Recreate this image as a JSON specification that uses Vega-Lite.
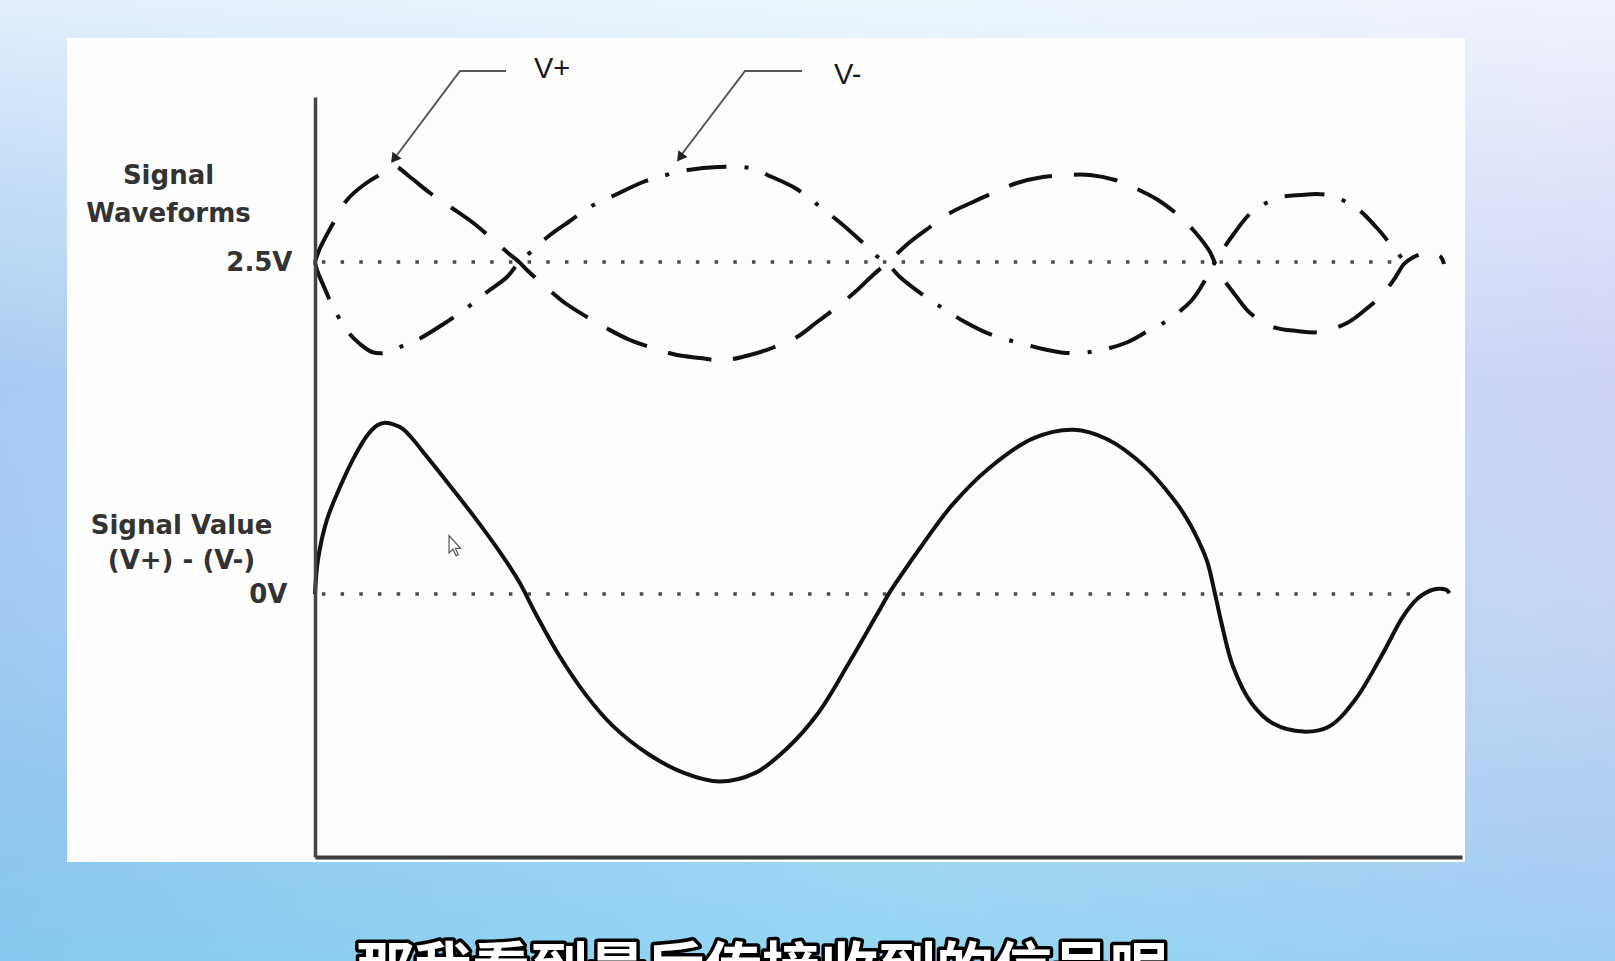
{
  "$schema": "https://vega.github.io/schema/vega-lite/v6.json",
  "width": 1147,
  "height": 760,
  "autosize": {"type": "none"},
  "padding": {"left": 315, "top": 97, "right": 153, "bottom": 104},
  "background": "#bcd8f3",
  "config": {
    "view": {"stroke": null},
    "axis": {"grid": false, "ticks": false, "tickSize": 0, "domain": false, "labels": false, "titleOpacity": 0, "zindex": 1}
  },
  "datasets": {
    "waves": [
      {"series": "V+", "t": 0, "v": 2.50}, {"series": "V+", "t": 0.44, "v": 2.64}, {"series": "V+", "t": 1.74, "v": 2.92}, {"series": "V+", "t": 2.79, "v": 3.12}, {"series": "V+", "t": 4.36, "v": 3.28}, {"series": "V+", "t": 6.28, "v": 3.41}, {"series": "V+", "t": 7.06, "v": 3.45}, {"series": "V+", "t": 8.28, "v": 3.35}, {"series": "V+", "t": 10.03, "v": 3.19}, {"series": "V+", "t": 11.94, "v": 3.04}, {"series": "V+", "t": 13.69, "v": 2.90}, {"series": "V+", "t": 15.26, "v": 2.75}, {"series": "V+", "t": 16.83, "v": 2.59}, {"series": "V+", "t": 17.79, "v": 2.50}, {"series": "V+", "t": 18.57, "v": 2.41}, {"series": "V+", "t": 20.23, "v": 2.24}, {"series": "V+", "t": 21.80, "v": 2.09}, {"series": "V+", "t": 23.71, "v": 1.95}, {"series": "V+", "t": 25.54, "v": 1.83}, {"series": "V+", "t": 27.46, "v": 1.72}, {"series": "V+", "t": 29.47, "v": 1.64}, {"series": "V+", "t": 31.56, "v": 1.57}, {"series": "V+", "t": 33.57, "v": 1.54}, {"series": "V+", "t": 34.87, "v": 1.52}, {"series": "V+", "t": 35.92, "v": 1.52}, {"series": "V+", "t": 37.92, "v": 1.57}, {"series": "V+", "t": 39.84, "v": 1.64}, {"series": "V+", "t": 42.02, "v": 1.75}, {"series": "V+", "t": 43.77, "v": 1.90}, {"series": "V+", "t": 45.51, "v": 2.05}, {"series": "V+", "t": 47.08, "v": 2.20}, {"series": "V+", "t": 48.65, "v": 2.37}, {"series": "V+", "t": 49.96, "v": 2.50}, {"series": "V+", "t": 51.87, "v": 2.70}, {"series": "V+", "t": 53.62, "v": 2.85}, {"series": "V+", "t": 55.36, "v": 2.99}, {"series": "V+", "t": 57.37, "v": 3.10}, {"series": "V+", "t": 59.29, "v": 3.20}, {"series": "V+", "t": 61.20, "v": 3.29}, {"series": "V+", "t": 63.47, "v": 3.35}, {"series": "V+", "t": 65.56, "v": 3.37}, {"series": "V+", "t": 67.57, "v": 3.37}, {"series": "V+", "t": 69.75, "v": 3.32}, {"series": "V+", "t": 71.67, "v": 3.23}, {"series": "V+", "t": 73.50, "v": 3.12}, {"series": "V+", "t": 75.24, "v": 2.97}, {"series": "V+", "t": 76.72, "v": 2.80}, {"series": "V+", "t": 78.03, "v": 2.60}, {"series": "V+", "t": 78.42, "v": 2.50}, {"series": "V+", "t": 79.08, "v": 2.35}, {"series": "V+", "t": 80.30, "v": 2.16}, {"series": "V+", "t": 81.52, "v": 1.99}, {"series": "V+", "t": 83.52, "v": 1.85}, {"series": "V+", "t": 85.61, "v": 1.81}, {"series": "V+", "t": 87.62, "v": 1.80}, {"series": "V+", "t": 89.97, "v": 1.89}, {"series": "V+", "t": 91.54, "v": 2.02}, {"series": "V+", "t": 93.03, "v": 2.17}, {"series": "V+", "t": 94.16, "v": 2.34}, {"series": "V+", "t": 94.94, "v": 2.48}, {"series": "V+", "t": 95.64, "v": 2.54}, {"series": "V+", "t": 96.86, "v": 2.59}, {"series": "V+", "t": 98.08, "v": 2.56}, {"series": "V+", "t": 98.43, "v": 2.48},
      {"series": "V-", "t": 0, "v": 2.50}, {"series": "V-", "t": 0.17, "v": 2.42}, {"series": "V-", "t": 0.87, "v": 2.23}, {"series": "V-", "t": 1.57, "v": 2.05}, {"series": "V-", "t": 2.88, "v": 1.80}, {"series": "V-", "t": 3.92, "v": 1.68}, {"series": "V-", "t": 4.97, "v": 1.60}, {"series": "V-", "t": 6.10, "v": 1.59}, {"series": "V-", "t": 7.41, "v": 1.65}, {"series": "V-", "t": 8.89, "v": 1.72}, {"series": "V-", "t": 11.07, "v": 1.87}, {"series": "V-", "t": 13.34, "v": 2.05}, {"series": "V-", "t": 15.00, "v": 2.20}, {"series": "V-", "t": 16.74, "v": 2.35}, {"series": "V-", "t": 17.79, "v": 2.50}, {"series": "V-", "t": 18.31, "v": 2.55}, {"series": "V-", "t": 20.49, "v": 2.77}, {"series": "V-", "t": 22.23, "v": 2.91}, {"series": "V-", "t": 23.80, "v": 3.04}, {"series": "V-", "t": 26.16, "v": 3.17}, {"series": "V-", "t": 28.60, "v": 3.30}, {"series": "V-", "t": 30.60, "v": 3.37}, {"series": "V-", "t": 32.52, "v": 3.42}, {"series": "V-", "t": 35.13, "v": 3.45}, {"series": "V-", "t": 37.92, "v": 3.44}, {"series": "V-", "t": 39.84, "v": 3.35}, {"series": "V-", "t": 41.85, "v": 3.24}, {"series": "V-", "t": 43.85, "v": 3.07}, {"series": "V-", "t": 46.03, "v": 2.87}, {"series": "V-", "t": 47.60, "v": 2.71}, {"series": "V-", "t": 49.08, "v": 2.55}, {"series": "V-", "t": 49.78, "v": 2.50}, {"series": "V-", "t": 51.00, "v": 2.35}, {"series": "V-", "t": 53.01, "v": 2.17}, {"series": "V-", "t": 54.84, "v": 2.03}, {"series": "V-", "t": 56.67, "v": 1.90}, {"series": "V-", "t": 59.02, "v": 1.77}, {"series": "V-", "t": 61.46, "v": 1.69}, {"series": "V-", "t": 63.47, "v": 1.63}, {"series": "V-", "t": 65.56, "v": 1.59}, {"series": "V-", "t": 68.18, "v": 1.61}, {"series": "V-", "t": 70.88, "v": 1.70}, {"series": "V-", "t": 72.62, "v": 1.81}, {"series": "V-", "t": 74.37, "v": 1.92}, {"series": "V-", "t": 76.46, "v": 2.12}, {"series": "V-", "t": 77.86, "v": 2.37}, {"series": "V-", "t": 78.47, "v": 2.50}, {"series": "V-", "t": 80.03, "v": 2.77}, {"series": "V-", "t": 81.69, "v": 3.00}, {"series": "V-", "t": 83.96, "v": 3.14}, {"series": "V-", "t": 85.88, "v": 3.17}, {"series": "V-", "t": 88.23, "v": 3.17}, {"series": "V-", "t": 90.67, "v": 3.05}, {"series": "V-", "t": 92.59, "v": 2.84}, {"series": "V-", "t": 93.81, "v": 2.67}, {"series": "V-", "t": 95.03, "v": 2.50}
    ],
    "signal": [
      {"t": 0, "v": 0}, {"t": 0.26, "v": 0.40}, {"t": 1.03, "v": 0.86}, {"t": 2.20, "v": 1.25}, {"t": 3.37, "v": 1.58}, {"t": 4.53, "v": 1.84}, {"t": 5.40, "v": 1.96}, {"t": 6.09, "v": 1.99}, {"t": 6.90, "v": 1.97}, {"t": 7.65, "v": 1.92}, {"t": 8.40, "v": 1.82}, {"t": 9.20, "v": 1.69}, {"t": 11.53, "v": 1.30}, {"t": 13.87, "v": 0.90}, {"t": 16.21, "v": 0.47}, {"t": 17.76, "v": 0.15}, {"t": 19.32, "v": -0.25}, {"t": 21.26, "v": -0.71}, {"t": 23.60, "v": -1.17}, {"t": 25.94, "v": -1.53}, {"t": 29.05, "v": -1.86}, {"t": 32.16, "v": -2.08}, {"t": 35.27, "v": -2.18}, {"t": 38.39, "v": -2.08}, {"t": 41.12, "v": -1.80}, {"t": 43.84, "v": -1.39}, {"t": 46.56, "v": -0.80}, {"t": 48.90, "v": -0.26}, {"t": 50.06, "v": 0.01}, {"t": 51.00, "v": 0.20}, {"t": 52.94, "v": 0.57}, {"t": 55.52, "v": 1.03}, {"t": 58.74, "v": 1.46}, {"t": 62.62, "v": 1.81}, {"t": 66.16, "v": 1.91}, {"t": 69.07, "v": 1.80}, {"t": 72.29, "v": 1.49}, {"t": 74.87, "v": 1.10}, {"t": 75.90, "v": 0.90}, {"t": 76.81, "v": 0.68}, {"t": 77.78, "v": 0.38}, {"t": 78.42, "v": 0.03}, {"t": 79.07, "v": -0.36}, {"t": 80.03, "v": -0.84}, {"t": 81.65, "v": -1.27}, {"t": 83.58, "v": -1.51}, {"t": 86.16, "v": -1.60}, {"t": 88.42, "v": -1.54}, {"t": 90.68, "v": -1.23}, {"t": 92.94, "v": -0.73}, {"t": 94.87, "v": -0.26}, {"t": 96.16, "v": -0.05}, {"t": 97.45, "v": 0.05}, {"t": 98.59, "v": 0.05}, {"t": 98.91, "v": 0.01}
    ],
    "leaders": [
      {"g": "V+", "i": 0, "t": 16.65, "v": 4.41}, {"g": "V+", "i": 1, "t": 12.64, "v": 4.41}, {"g": "V+", "i": 2, "t": 7.15, "v": 3.57},
      {"g": "V-", "i": 0, "t": 42.46, "v": 4.41}, {"g": "V-", "i": 1, "t": 37.49, "v": 4.41}, {"g": "V-", "i": 2, "t": 32.0, "v": 3.58}
    ],
    "arrows": [
      {"g": "V+", "t": 6.89, "v": 3.53},
      {"g": "V-", "t": 31.82, "v": 3.545}
    ],
    "labels": [
      {"txt": "V+", "t": 19.09, "v": 4.34},
      {"txt": "V-", "t": 45.25, "v": 4.28}
    ],
    "cursor": [
      {"t": 12.21, "v": 0.563}
    ],
    "caption": [
      {"txt": "那我看到最后传接收到的信号呢", "t": 38.97, "v": -4.78}
    ]
  },
  "resolve": {"scale": {"y": "independent"}, "axis": {"y": "independent"}},
  "layer": [
    {
      "layer": [
        {
          "data": {"values": [{}]},
          "mark": {"type": "rect", "fill": {"gradient": "linear", "x1": 0, "y1": 0, "x2": 1, "y2": 0, "stops": [{"offset": 0, "color": "#9fc6f1"}, {"offset": 0.55, "color": "#b9def5"}, {"offset": 1, "color": "#cbd0f4"}]}},
          "encoding": {
            "x": {"datum": -28, "type": "quantitative", "scale": {"domain": [0, 100], "nice": false, "zero": false}},
            "x2": {"datum": 114},
            "y": {"datum": 5.2, "type": "quantitative", "scale": {"domain": [-3.45, 4.15], "nice": false, "zero": false}},
            "y2": {"datum": -4.6}
          }
        },
        {
          "data": {"values": [{}]},
          "mark": {"type": "rect", "fill": {"gradient": "linear", "x1": 0, "y1": 0, "x2": 0, "y2": 1, "stops": [{"offset": 0, "color": "rgba(255,255,255,0.72)"}, {"offset": 0.4, "color": "rgba(255,255,255,0.08)"}, {"offset": 0.8, "color": "rgba(110,200,240,0.25)"}, {"offset": 1, "color": "rgba(110,205,240,0.5)"}]}},
          "encoding": {
            "x": {"datum": -28, "type": "quantitative", "scale": {"domain": [0, 100], "nice": false, "zero": false}},
            "x2": {"datum": 114},
            "y": {"datum": 5.2, "type": "quantitative", "scale": {"domain": [-3.45, 4.15], "nice": false, "zero": false}},
            "y2": {"datum": -4.6}
          }
        },
        {
          "data": {"values": [{}]},
          "mark": {"type": "rect", "fill": "#fdfdfd"},
          "encoding": {
            "x": {"datum": -21.62, "type": "quantitative", "scale": {"domain": [0, 100], "nice": false, "zero": false}},
            "x2": {"datum": 100.26},
            "y": {"datum": 4.74, "type": "quantitative", "scale": {"domain": [-3.45, 4.15], "nice": false, "zero": false}},
            "y2": {"datum": -3.5}
          }
        },
        {
          "data": {"values": [{}]},
          "mark": {"type": "rule", "color": "#4a4a4a", "strokeWidth": 3.5, "strokeDash": [3.5, 15.2]},
          "encoding": {
            "x": {"datum": 0.6, "type": "quantitative", "scale": {"domain": [0, 100], "nice": false, "zero": false}},
            "x2": {"datum": 94.3},
            "y": {"datum": 2.5, "type": "quantitative", "scale": {"domain": [-3.45, 4.15], "nice": false, "zero": false}}
          }
        },
        {
          "data": {"name": "waves"},
          "transform": [{"filter": "datum.series === 'V+'"}],
          "mark": {"type": "line", "color": "#111111", "strokeWidth": 4, "strokeDash": [44, 22], "interpolate": "catmull-rom"},
          "encoding": {
            "x": {"field": "t", "type": "quantitative", "scale": {"domain": [0, 100], "nice": false, "zero": false},
              "axis": {"orient": "bottom", "domain": true, "domainColor": "#3c3c3c", "domainWidth": 4, "labels": false, "ticks": false, "title": "", "grid": false, "zindex": 1}},
            "y": {"field": "v", "type": "quantitative", "scale": {"domain": [-3.45, 4.15], "nice": false, "zero": false},
              "axis": {"orient": "left", "zindex": 1, "domain": true, "domainColor": "#444444", "domainWidth": 3.5, "values": [2.5], "labels": true, "labelExpr": "'2.5V'",
                "labelFont": "DejaVu Sans", "labelFontWeight": "bold", "labelFontSize": 26, "labelColor": "#333333", "labelPadding": 23,
                "ticks": false, "tickSize": 0, "grid": false,
                "title": ["Signal", "Waveforms"], "titleOpacity": 1, "titleAngle": 0, "titleX": -147, "titleY": 86, "titleAlign": "center", "titleBaseline": "alphabetic",
                "titleFont": "DejaVu Sans", "titleFontSize": 26, "titleFontWeight": "bold", "titleColor": "#333333", "titleLineHeight": 38.5}}
          }
        },
        {
          "data": {"name": "waves"},
          "transform": [{"filter": "datum.series === 'V-'"}],
          "mark": {"type": "line", "color": "#111111", "strokeWidth": 4, "strokeDash": [40, 18, 4, 18], "interpolate": "catmull-rom"},
          "encoding": {
            "x": {"field": "t", "type": "quantitative", "scale": {"domain": [0, 100], "nice": false, "zero": false}},
            "y": {"field": "v", "type": "quantitative", "scale": {"domain": [-3.45, 4.15], "nice": false, "zero": false}}
          }
        },
        {
          "data": {"name": "leaders"},
          "mark": {"type": "line", "color": "#555555", "strokeWidth": 2},
          "encoding": {
            "x": {"field": "t", "type": "quantitative", "scale": {"domain": [0, 100], "nice": false, "zero": false}},
            "y": {"field": "v", "type": "quantitative", "scale": {"domain": [-3.45, 4.15], "nice": false, "zero": false}},
            "detail": {"field": "g", "type": "nominal"},
            "order": {"field": "i", "type": "quantitative"}
          }
        },
        {
          "data": {"name": "arrows"},
          "mark": {"type": "point", "shape": "triangle-down", "filled": true, "color": "#222222", "size": 130, "angle": 37, "opacity": 1},
          "encoding": {
            "x": {"field": "t", "type": "quantitative", "scale": {"domain": [0, 100], "nice": false, "zero": false}},
            "y": {"field": "v", "type": "quantitative", "scale": {"domain": [-3.45, 4.15], "nice": false, "zero": false}}
          }
        },
        {
          "data": {"name": "labels"},
          "mark": {"type": "text", "font": "Liberation Sans", "fontSize": 29, "color": "#1a1a1a", "align": "left", "baseline": "alphabetic"},
          "encoding": {
            "x": {"field": "t", "type": "quantitative", "scale": {"domain": [0, 100], "nice": false, "zero": false}},
            "y": {"field": "v", "type": "quantitative", "scale": {"domain": [-3.45, 4.15], "nice": false, "zero": false}},
            "text": {"field": "txt"}
          }
        },
        {
          "data": {"name": "caption"},
          "mark": {"type": "text", "font": "Noto Sans CJK SC", "fontWeight": "bold", "fontSize": 58, "fill": "#000000", "stroke": "#000000", "strokeWidth": 7, "strokeJoin": "round", "align": "center", "baseline": "alphabetic"},
          "encoding": {
            "x": {"field": "t", "type": "quantitative", "scale": {"domain": [0, 100], "nice": false, "zero": false}},
            "y": {"field": "v", "type": "quantitative", "scale": {"domain": [-3.45, 4.15], "nice": false, "zero": false}},
            "text": {"field": "txt"}
          }
        },
        {
          "data": {"name": "caption"},
          "mark": {"type": "text", "font": "Noto Sans CJK SC", "fontWeight": "bold", "fontSize": 58, "fill": "#ffffff", "align": "center", "baseline": "alphabetic"},
          "encoding": {
            "x": {"field": "t", "type": "quantitative", "scale": {"domain": [0, 100], "nice": false, "zero": false}},
            "y": {"field": "v", "type": "quantitative", "scale": {"domain": [-3.45, 4.15], "nice": false, "zero": false}},
            "text": {"field": "txt"}
          }
        }
      ]
    },
    {
      "layer": [
        {
          "data": {"values": [{}]},
          "mark": {"type": "rule", "color": "#4a4a4a", "strokeWidth": 3.5, "strokeDash": [3.5, 15.2]},
          "encoding": {
            "x": {"datum": 0.6, "type": "quantitative", "scale": {"domain": [0, 100], "nice": false, "zero": false}},
            "x2": {"datum": 96.6},
            "y": {"datum": 0, "type": "quantitative", "scale": {"domain": [-3.058, 5.779], "nice": false, "zero": false}}
          }
        },
        {
          "data": {"name": "signal"},
          "mark": {"type": "line", "color": "#111111", "strokeWidth": 4, "interpolate": "catmull-rom"},
          "encoding": {
            "x": {"field": "t", "type": "quantitative", "scale": {"domain": [0, 100], "nice": false, "zero": false}},
            "y": {"field": "v", "type": "quantitative", "scale": {"domain": [-3.058, 5.779], "nice": false, "zero": false},
              "axis": {"orient": "left", "zindex": 1, "domain": false, "values": [0], "labels": true, "labelExpr": "'0V'",
                "labelFont": "DejaVu Sans", "labelFontWeight": "bold", "labelFontSize": 26, "labelColor": "#333333", "labelPadding": 28,
                "ticks": false, "tickSize": 0, "grid": false,
                "title": ["Signal Value", "(V+) - (V-)"], "titleOpacity": 1, "titleAngle": 0, "titleX": -134, "titleY": 436, "titleAlign": "center", "titleBaseline": "alphabetic",
                "titleFont": "DejaVu Sans", "titleFontSize": 26, "titleFontWeight": "bold", "titleColor": "#333333", "titleLineHeight": 35}}
          }
        },
        {
          "data": {"name": "cursor"},
          "mark": {"type": "point", "shape": "M-0.6,-1L-0.6,0.72L-0.2,0.36L0.1,1L0.32,0.9L0.04,0.28L0.55,0.28Z", "filled": true, "fill": "#ffffff", "stroke": "#555555", "strokeWidth": 1.2, "size": 400, "opacity": 1},
          "encoding": {
            "x": {"field": "t", "type": "quantitative", "scale": {"domain": [0, 100], "nice": false, "zero": false}},
            "y": {"field": "v", "type": "quantitative", "scale": {"domain": [-3.058, 5.779], "nice": false, "zero": false}}
          }
        }
      ]
    }
  ]
}
